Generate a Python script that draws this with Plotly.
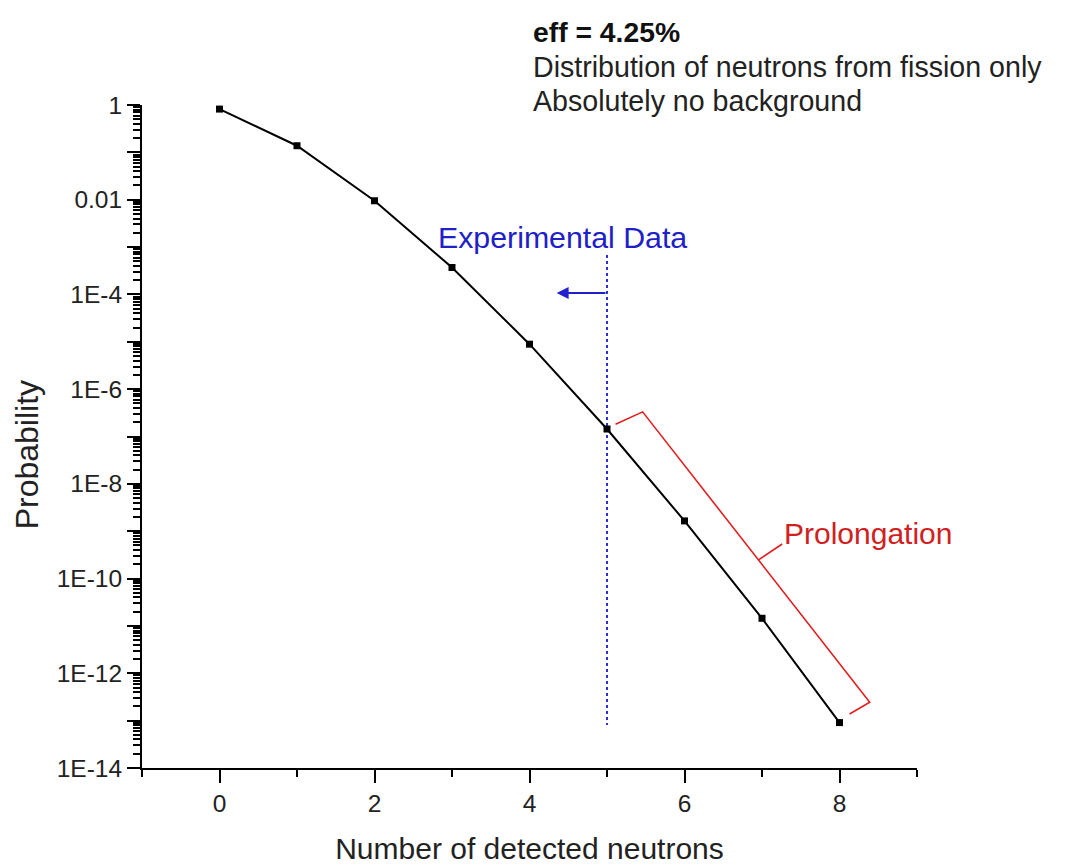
import math
import plotly.graph_objects as go

# Data
neutrons = [0, 1, 2, 3, 4, 5, 6, 7, 8]
probability = [0.82, 0.138, 0.0095, 3.7e-4, 8.9e-6, 1.44e-7, 1.65e-9, 1.45e-11, 9.1e-14]

y_major_exp = list(range(-14, 1))
y_labels = {0: "1", -2: "0.01", -4: "1E-4", -6: "1E-6", -8: "1E-8",
            -10: "1E-10", -12: "1E-12", -14: "1E-14"}
x_tickvals = [0, 2, 4, 6, 8]

FONT = "Liberation Sans, Arial, sans-serif"

fig = go.Figure()

# dotted experimental-data boundary (shape in data coords, raw values on log axis)
fig.add_shape(type="line", xref="x", yref="y", x0=5, x1=5, y0=10**-3.17, y1=10**-13.09,
              line=dict(color="#3030d0", width=2, dash="dot"), layer="below")

# Prolongation bracket
br_x = [5.11, 5.46, 8.39, 8.13]
br_logy = [-6.74, -6.48, -12.61, -12.86]
fig.add_trace(go.Scatter(x=br_x, y=[10**e for e in br_logy], mode="lines",
                         line=dict(color="#e02020", width=1.6), hoverinfo="skip",
                         showlegend=False))
fig.add_trace(go.Scatter(x=[6.95, 7.26], y=[10**-9.61, 10**-9.27], mode="lines",
                         line=dict(color="#e02020", width=1.6), hoverinfo="skip",
                         showlegend=False))

# Main curve
fig.add_trace(go.Scatter(x=neutrons, y=probability, mode="lines+markers",
                         line=dict(color="black", width=2),
                         marker=dict(symbol="square", size=7, color="black"),
                         showlegend=False))

minor_y = [k * 10**e for e in range(-14, 0) for k in range(2, 10)]

fig.update_xaxes(range=[-1, 9], tickmode="array", tickvals=x_tickvals,
                 ticks="outside", ticklen=13, tickwidth=2, tickcolor="black",
                 showline=True, linewidth=2, linecolor="black", showgrid=False,
                 zeroline=False, automargin=False,
                 minor=dict(tickmode="array", tickvals=[-1, 1, 3, 5, 7, 9],
                            ticks="outside", ticklen=7, tickwidth=2, tickcolor="black"),
                 tickfont=dict(family=FONT, size=24.5, color="#222"),
                 title=dict(text="Number of detected neutrons",
                            font=dict(family=FONT, size=30, color="#222"), standoff=22))

fig.update_yaxes(type="log", range=[-14, 0], tickmode="array",
                 tickvals=[10**e for e in y_major_exp],
                 ticktext=[y_labels.get(e, "") for e in y_major_exp],
                 ticks="outside", ticklen=13, tickwidth=2, tickcolor="black",
                 showline=True, linewidth=2, linecolor="black", showgrid=False,
                 zeroline=False, automargin=False,
                 minor=dict(tickmode="array", tickvals=minor_y,
                            ticks="outside", ticklen=7, tickwidth=1.6, tickcolor="black"),
                 tickfont=dict(family=FONT, size=24.5, color="#222"))

annotations = [
    dict(text="Probability", x=-0.148, y=0.472, xref="paper", yref="paper",
         xanchor="center", yanchor="middle", textangle=-90, showarrow=False,
         font=dict(family=FONT, size=32, color="#222")),
    dict(text="<b>eff = 4.25%</b>", x=0.502, y=1.11, xref="paper", yref="paper",
         xanchor="left", yanchor="middle", showarrow=False,
         font=dict(family=FONT, size=28.3, color="#111")),
    dict(text="Distribution of neutrons from fission only", x=0.502, y=1.058,
         xref="paper", yref="paper", xanchor="left", yanchor="middle", showarrow=False,
         font=dict(family=FONT, size=28.6, color="#222")),
    dict(text="Absolutely no background", x=0.502, y=1.006,
         xref="paper", yref="paper", xanchor="left", yanchor="middle", showarrow=False,
         font=dict(family=FONT, size=28.6, color="#222")),
    dict(text="Experimental Data", x=4.42, y=-2.79, xref="x", yref="y",
         xanchor="center", yanchor="middle", showarrow=False,
         font=dict(family=FONT, size=30.3, color="#2020c8")),
    dict(text="", x=4.35, y=-3.97, ax=5.0, ay=-3.97, xref="x", yref="y",
         axref="x", ayref="y", showarrow=True, arrowhead=2, arrowsize=1.2,
         arrowwidth=2, arrowcolor="#2020d0"),
    dict(text="Prolongation", x=7.26, y=-9.04, xref="x", yref="y",
         xanchor="left", yanchor="middle", showarrow=False,
         font=dict(family=FONT, size=30, color="#d02020")),
]

fig.update_layout(width=1073, height=865, margin=dict(l=142, r=156, t=105, b=97),
                  plot_bgcolor="white", paper_bgcolor="white",
                  annotations=annotations, showlegend=False)

fig.write_html("out.html")
